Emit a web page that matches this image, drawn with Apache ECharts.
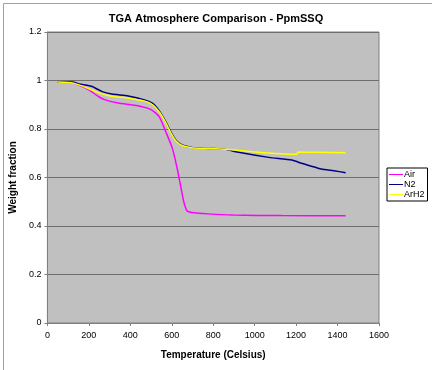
<!DOCTYPE html>
<html><head><meta charset="utf-8">
<script src="https://cdn.jsdelivr.net/npm/echarts@6/dist/echarts.min.js"></script>
<style>html,body{margin:0;padding:0;background:#fff}#c{width:432px;height:370px}</style>
</head><body><div id="c"></div>
<script>
var seriesNames = ['Air', 'N2', 'ArH2'];
var airT = [50, 121, 153, 200, 248, 279, 341, 436, 500, 540, 571, 603, 626, 642, 658, 674, 696, 776, 895, 1131, 1439];
var airW = [0.994, 0.991, 0.981, 0.961, 0.933, 0.92, 0.907, 0.896, 0.88, 0.85, 0.789, 0.720, 0.638, 0.569, 0.50, 0.462, 0.456, 0.450, 0.445, 0.443, 0.442];
var n2T = [50, 121, 153, 216, 264, 311, 390, 469, 508, 540, 571, 595, 619, 650, 697, 776, 862, 909, 1068, 1179, 1226, 1321, 1382, 1439];
var n2W = [0.994, 0.994, 0.986, 0.975, 0.954, 0.944, 0.936, 0.92, 0.906, 0.875, 0.83, 0.789, 0.755, 0.734, 0.724, 0.72, 0.716, 0.706, 0.683, 0.672, 0.659, 0.635, 0.628, 0.62];
var arT = [50, 121, 153, 264, 311, 390, 469, 508, 540, 571, 595, 619, 650, 697, 776, 862, 989, 1084, 1202, 1210, 1300, 1439];
var arW = [0.994, 0.99, 0.982, 0.945, 0.935, 0.927, 0.915, 0.9, 0.87, 0.826, 0.785, 0.752, 0.732, 0.723, 0.72, 0.716, 0.706, 0.70, 0.696, 0.705, 0.704, 0.702];

function pairs(t, w) { return t.map(function (v, i) { return [v, w[i]]; }); }
var colors = ['#ff00ff', '#000080', '#ffff00'];
var datas = [pairs(airT, airW), pairs(n2T, n2W), pairs(arT, arW)];
var font = 'Liberation Sans, Arial, sans-serif';

var chart = echarts.init(document.getElementById('c'));
chart.setOption({
  animation: false,
  backgroundColor: '#ffffff',
  title: {
    text: 'TGA Atmosphere Comparison - PpmSSQ',
    left: 'center', top: 8,
    textStyle: { fontFamily: font, fontSize: 11, fontWeight: 'bold', color: '#000' }
  },
  graphic: [{
    type: 'rect', left: 1, top: 1, z: -1,
    shape: { width: 429, height: 367 },
    style: { fill: 'none', stroke: '#a0a0a0', lineWidth: 1 }
  }],
  legend: {
    orient: 'vertical', left: 387, top: 168,
    data: seriesNames,
    backgroundColor: '#fff', borderColor: '#000', borderWidth: 1,
    padding: [2, 3, 2, 2], itemGap: 1, itemWidth: 14, itemHeight: 8,
    icon: 'path://M0,4L14,4L14,5L0,5Z',
    textStyle: { fontFamily: font, fontSize: 9, color: '#000', padding: [0, 0, 0, -4] }
  },
  grid: { left: 41, right: 53, top: 32, bottom: 47, show: true, backgroundColor: '#c0c0c0', borderColor: '#808080', borderWidth: 1 },
  xAxis: {
    type: 'value', min: 0, max: 1600, interval: 200,
    name: 'Temperature (Celsius)', nameLocation: 'middle', nameGap: 27,
    nameTextStyle: { fontFamily: font, fontSize: 10, fontWeight: 'bold', color: '#000' },
    axisLine: { lineStyle: { color: '#808080' } },
    axisTick: { show: true, length: 3, lineStyle: { color: '#808080' } },
    axisLabel: { fontFamily: font, fontSize: 9, color: '#000', margin: 8, formatter: function (v) { return String(v); } },
    splitLine: { show: false }
  },
  yAxis: {
    type: 'value', min: 0, max: 1.2, interval: 0.2,
    name: 'Weight fraction', nameLocation: 'middle', nameGap: 25,
    nameTextStyle: { fontFamily: font, fontSize: 10, fontWeight: 'bold', color: '#000' },
    axisLine: { show: true, lineStyle: { color: '#808080' } },
    axisTick: { show: true, length: 3, lineStyle: { color: '#808080' } },
    axisLabel: { fontFamily: font, fontSize: 9, color: '#000', margin: 6 },
    splitLine: { show: true, lineStyle: { color: '#6e6e6e', width: 1 } }
  },
  series: seriesNames.map(function (n, i) {
    return {
      name: n, type: 'line', data: datas[i], showSymbol: false, symbol: 'none',
      smooth: 0.2,
      itemStyle: { color: colors[i] },
      lineStyle: { color: colors[i], width: 1.5 }
    };
  })
});
</script></body></html>
